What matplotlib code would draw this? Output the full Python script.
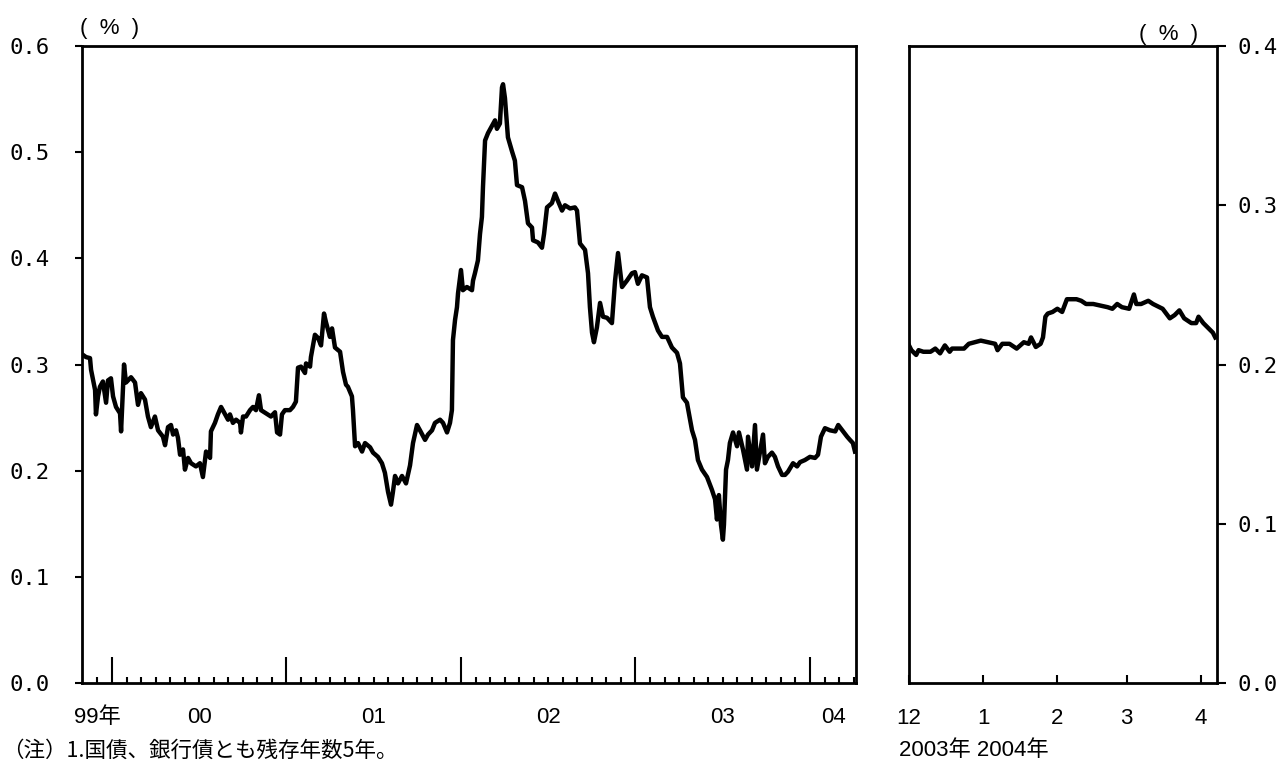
import matplotlib
matplotlib.use('Agg')
import matplotlib.pyplot as plt
import matplotlib.dates as mdates
import numpy as np

plt.rcParams['font.family'] = ['Liberation Sans', 'Noto Sans CJK JP', 'DejaVu Sans']

# 左パネル: 1999年11月〜2004年4月 (小数年, %)
left_t = [1999.834, 1999.851, 1999.874, 1999.880, 1999.903, 1999.908, 1999.920, 1999.931, 1999.948, 1999.966,
          1999.977, 1999.994, 2000.006, 2000.023, 2000.046, 2000.052, 2000.069, 2000.080, 2000.109, 2000.132,
          2000.149, 2000.166, 2000.189, 2000.206, 2000.223, 2000.246, 2000.264, 2000.292, 2000.304, 2000.321,
          2000.338, 2000.350, 2000.367, 2000.378, 2000.390, 2000.407, 2000.418, 2000.436, 2000.453, 2000.481,
          2000.504, 2000.521, 2000.539, 2000.562, 2000.567, 2000.590, 2000.607, 2000.625, 2000.648, 2000.665,
          2000.676, 2000.693, 2000.711, 2000.734, 2000.739, 2000.751, 2000.768, 2000.791, 2000.808, 2000.825,
          2000.842, 2000.854, 2000.883, 2000.911, 2000.934, 2000.946, 2000.963, 2000.974, 2000.991, 2001.020,
          2001.037, 2001.054, 2001.066, 2001.083, 2001.106, 2001.112, 2001.135, 2001.140, 2001.163, 2001.181,
          2001.198, 2001.215, 2001.226, 2001.249, 2001.261, 2001.278, 2001.307, 2001.324, 2001.341, 2001.352,
          2001.375, 2001.381, 2001.393, 2001.410, 2001.433, 2001.450, 2001.479, 2001.496, 2001.524, 2001.547,
          2001.564, 2001.582, 2001.599, 2001.610, 2001.622, 2001.639, 2001.662, 2001.685, 2001.708, 2001.725,
          2001.748, 2001.765, 2001.794, 2001.811, 2001.834, 2001.851, 2001.880, 2001.897, 2001.920, 2001.937,
          2001.948, 2001.954, 2001.966, 2001.977, 2001.983, 2002.000, 2002.011, 2002.034, 2002.063, 2002.069,
          2002.080, 2002.097, 2002.109, 2002.120, 2002.126, 2002.138, 2002.155, 2002.178, 2002.195, 2002.206,
          2002.223, 2002.235, 2002.241, 2002.252, 2002.269, 2002.292, 2002.309, 2002.321, 2002.350, 2002.367,
          2002.384, 2002.407, 2002.413, 2002.441, 2002.464, 2002.476, 2002.493, 2002.521, 2002.539, 2002.556,
          2002.579, 2002.596, 2002.625, 2002.653, 2002.665, 2002.682, 2002.711, 2002.728, 2002.739, 2002.751,
          2002.762, 2002.779, 2002.797, 2002.814, 2002.837, 2002.865, 2002.883, 2002.900, 2002.923, 2002.951,
          2002.980, 2002.997, 2003.014, 2003.037, 2003.066, 2003.083, 2003.100, 2003.129, 2003.152, 2003.181,
          2003.209, 2003.238, 2003.255, 2003.272, 2003.295, 2003.324, 2003.341, 2003.358, 2003.381, 2003.410,
          2003.438, 2003.456, 2003.467, 2003.478, 2003.490, 2003.501, 2003.507, 2003.519, 2003.530, 2003.541,
          2003.559, 2003.582, 2003.593, 2003.616, 2003.639, 2003.645, 2003.668, 2003.685, 2003.696, 2003.713,
          2003.731, 2003.742, 2003.759, 2003.782, 2003.799, 2003.817, 2003.840, 2003.857, 2003.874, 2003.903,
          2003.926, 2003.943, 2003.971, 2004.000, 2004.029, 2004.046, 2004.063, 2004.086, 2004.115, 2004.145,
          2004.162, 2004.185, 2004.213, 2004.229, 2004.246, 2004.258]
left_vals = [0.309, 0.307, 0.306, 0.295, 0.276, 0.253, 0.270, 0.279, 0.284, 0.264,
             0.285, 0.287, 0.270, 0.260, 0.254, 0.237, 0.300, 0.283, 0.288, 0.283,
             0.262, 0.273, 0.267, 0.251, 0.241, 0.251, 0.238, 0.232, 0.224, 0.241,
             0.243, 0.234, 0.238, 0.231, 0.215, 0.220, 0.201, 0.212, 0.207, 0.204,
             0.207, 0.194, 0.218, 0.212, 0.237, 0.245, 0.253, 0.260, 0.253, 0.248,
             0.253, 0.245, 0.248, 0.245, 0.236, 0.251, 0.251, 0.257, 0.260, 0.257,
             0.271, 0.257, 0.254, 0.251, 0.255, 0.236, 0.234, 0.253, 0.257, 0.257,
             0.260, 0.265, 0.297, 0.298, 0.292, 0.301, 0.298, 0.307, 0.328, 0.325,
             0.318, 0.348, 0.340, 0.326, 0.334, 0.316, 0.312, 0.293, 0.281, 0.279,
             0.270, 0.257, 0.223, 0.226, 0.218, 0.226, 0.222, 0.217, 0.213, 0.207,
             0.198, 0.180, 0.168, 0.180, 0.195, 0.188, 0.195, 0.188, 0.205, 0.226,
             0.243, 0.238, 0.229, 0.234, 0.238, 0.245, 0.248, 0.245, 0.236, 0.245,
             0.257, 0.323, 0.342, 0.354, 0.367, 0.389, 0.370, 0.373, 0.370, 0.379,
             0.386, 0.398, 0.423, 0.439, 0.467, 0.511, 0.518, 0.525, 0.530, 0.522,
             0.527, 0.561, 0.564, 0.551, 0.514, 0.501, 0.492, 0.469, 0.467, 0.454,
             0.433, 0.429, 0.417, 0.415, 0.410, 0.423, 0.448, 0.452, 0.461, 0.454,
             0.445, 0.450, 0.447, 0.448, 0.445, 0.414, 0.408, 0.386, 0.354, 0.330,
             0.321, 0.335, 0.358, 0.345, 0.344, 0.339, 0.379, 0.405, 0.373, 0.379,
             0.386, 0.387, 0.376, 0.384, 0.382, 0.354, 0.345, 0.332, 0.326, 0.326,
             0.316, 0.311, 0.301, 0.269, 0.264, 0.238, 0.229, 0.210, 0.201, 0.194,
             0.182, 0.173, 0.154, 0.177, 0.149, 0.135, 0.149, 0.201, 0.210, 0.226,
             0.236, 0.223, 0.236, 0.220, 0.201, 0.232, 0.204, 0.243, 0.201, 0.217,
             0.234, 0.207, 0.213, 0.217, 0.213, 0.204, 0.196, 0.196, 0.199, 0.207,
             0.204, 0.208, 0.210, 0.213, 0.212, 0.215, 0.232, 0.240, 0.238, 0.237,
             0.243, 0.238, 0.232, 0.229, 0.226, 0.218]

# 右パネル: 2003年12月〜2004年4月
right_dates = ['2003-12-01', '2003-12-02', '2003-12-04', '2003-12-05', '2003-12-07', '2003-12-10',
               '2003-12-12', '2003-12-14', '2003-12-16', '2003-12-18', '2003-12-19', '2003-12-24',
               '2003-12-26', '2003-12-31', '2004-01-03', '2004-01-06', '2004-01-07', '2004-01-09',
               '2004-01-12', '2004-01-15', '2004-01-18', '2004-01-20', '2004-01-21', '2004-01-23',
               '2004-01-25', '2004-01-26', '2004-01-27', '2004-01-28', '2004-01-30', '2004-02-01',
               '2004-02-03', '2004-02-05', '2004-02-09', '2004-02-11', '2004-02-13', '2004-02-16',
               '2004-02-19', '2004-02-22', '2004-02-24', '2004-02-26', '2004-02-28', '2004-03-02',
               '2004-03-04', '2004-03-05', '2004-03-07', '2004-03-10', '2004-03-12', '2004-03-16',
               '2004-03-19', '2004-03-21', '2004-03-23', '2004-03-25', '2004-03-28', '2004-03-30',
               '2004-03-31', '2004-04-02', '2004-04-04', '2004-04-06', '2004-04-07']
right_vals = [0.212, 0.209, 0.206, 0.209, 0.208, 0.208, 0.210, 0.207, 0.212, 0.208,
              0.210, 0.210, 0.213, 0.215, 0.214, 0.213, 0.209, 0.213, 0.213, 0.210,
              0.214, 0.213, 0.217, 0.211, 0.213, 0.217, 0.230, 0.232, 0.233, 0.235,
              0.233, 0.241, 0.241, 0.240, 0.238, 0.238, 0.237, 0.236, 0.235, 0.238,
              0.236, 0.235, 0.244, 0.238, 0.238, 0.240, 0.238, 0.235, 0.229, 0.231,
              0.234, 0.229, 0.226, 0.226, 0.230, 0.226, 0.223, 0.220, 0.217]

left_years = ['99年', '00', '01', '02', '03', '04']
left_ticks = [0.0, 0.1, 0.2, 0.3, 0.4, 0.5, 0.6]
right_ticks = [0.0, 0.1, 0.2, 0.3, 0.4]
right_month_labels = ['12', '1', '2', '3', '4']

fig = plt.figure(figsize=(12.79, 7.62), dpi=100)
ax1 = fig.add_axes([0.0641, 0.1037, 0.6052, 0.8359])
ax2 = fig.add_axes([0.7107, 0.1037, 0.2408, 0.8359])

xmin, xmax = 1999.828, 2004.264

# --- 左 ---
ax1.plot(left_t, left_vals, color='black', lw=3.2, solid_joinstyle='round')
ax1.set_xlim(xmin, xmax)
ax1.set_ylim(0, 0.6)
ax1.set_yticks(left_ticks)
ax1.set_yticklabels(['%.1f' % v for v in left_ticks], family='DejaVu Sans Mono', fontsize=16)
ax1.tick_params(axis='y', direction='out', length=5, width=1.5, pad=18)
years = np.arange(2000, 2005)
ax1.set_xticks(years)
ax1.set_xticklabels([])
months = np.arange(1999 + 11 / 12, xmax, 1 / 12)
ax1.set_xticks(months, minor=True)
ax1.tick_params(axis='x', which='major', direction='in', length=19, width=1.5)
ax1.tick_params(axis='x', which='minor', direction='in', length=4.5, width=1.5)
edges = [xmin] + list(years) + [xmax]
for i, lab in enumerate(left_years):
    c = (edges[i] + edges[i + 1]) / 2
    ax1.text(c, -0.037, lab, transform=ax1.get_xaxis_transform(), ha='center', va='top', fontsize=16)

# --- 右 ---
rd = mdates.datestr2num(right_dates)
ax2.plot(rd, right_vals, color='black', lw=3.2, solid_joinstyle='round')
ax2.set_xlim(mdates.datestr2num('2003-12-01'), mdates.datestr2num('2004-04-07 17:00'))
ax2.set_ylim(0, 0.4)
ax2.yaxis.tick_right()
ax2.set_yticks(right_ticks)
ax2.set_yticklabels(['%.1f' % v for v in right_ticks], family='DejaVu Sans Mono', fontsize=16)
ax2.tick_params(axis='y', direction='out', length=6.5, width=1.5, pad=8)
mticks = mdates.datestr2num(['2003-12-01', '2004-01-01', '2004-02-01', '2004-03-01', '2004-04-01'])
ax2.set_xticks(mticks)
ax2.set_xticklabels(right_month_labels, fontsize=16)
ax2.tick_params(axis='x', direction='in', length=5.5, width=1.5, pad=18)

for ax in (ax1, ax2):
    for s in ax.spines.values():
        s.set_linewidth(2)

fig.text(0.086, 0.962, '(  %  )', ha='center', va='center', fontsize=16)
fig.text(0.914, 0.955, '(  %  )', ha='center', va='center', fontsize=16)
fig.text(0.002, 0.0144, '（注）1.国債、銀行債とも残存年数5年。', ha='left', va='center', fontsize=15.5,
         family=['Noto Sans CJK JP'])
fig.text(0.703, 0.0157, '2003年 2004年', ha='left', va='center', fontsize=16)

fig.savefig('out.png', dpi=100)
